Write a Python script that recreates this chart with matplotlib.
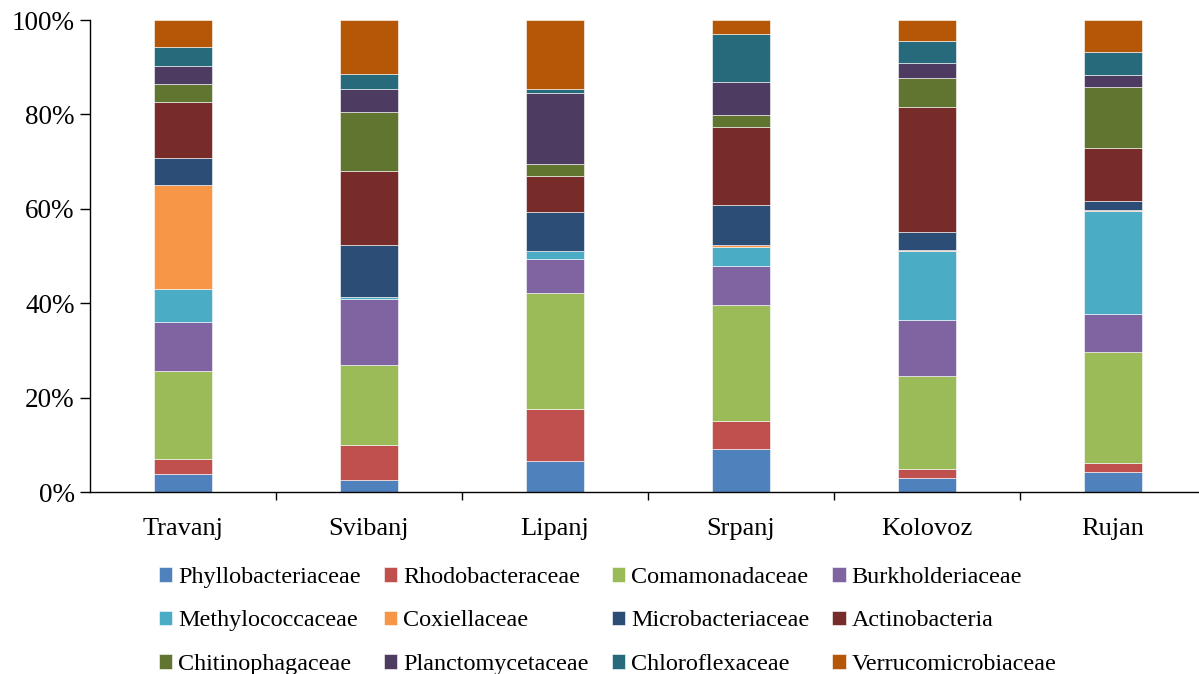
import numpy as np
import matplotlib.pyplot as plt

plt.rcParams['font.family'] = ['Liberation Serif', 'DejaVu Serif']

# mjeseci
months = ['Travanj', 'Svibanj', 'Lipanj', 'Srpanj', 'Kolovoz', 'Rujan']

# udio porodica (%) po mjesecima
phyllo = [3.9, 2.5, 6.5, 9.2, 3.0, 4.2]
rhodo = [3.0, 7.4, 11.0, 5.8, 1.8, 2.0]
comam = [18.8, 17.1, 24.6, 24.6, 19.8, 23.4]
burk = [10.3, 13.8, 7.2, 8.2, 11.8, 8.1]
methyl = [7.0, 0.6, 1.8, 4.2, 14.7, 21.9]
coxi = [22.0, 0.0, 0.0, 0.3, 0.2, 0.2]
microb = [5.6, 11.0, 8.3, 8.5, 3.7, 1.8]
actino = [12.0, 15.6, 7.5, 16.6, 26.5, 11.3]
chitin = [3.7, 12.5, 2.6, 2.4, 6.3, 12.9]
planct = [3.9, 4.9, 15.1, 7.1, 3.1, 2.5]
chloro = [4.0, 3.1, 0.7, 10.2, 4.6, 5.0]
verruco = [5.7, 11.5, 14.7, 2.9, 4.5, 6.7]

names = ['Phyllobacteriaceae', 'Rhodobacteraceae', 'Comamonadaceae', 'Burkholderiaceae',
         'Methylococcaceae', 'Coxiellaceae', 'Microbacteriaceae', 'Actinobacteria',
         'Chitinophagaceae', 'Planctomycetaceae', 'Chloroflexaceae', 'Verrucomicrobiaceae']
series = [phyllo, rhodo, comam, burk, methyl, coxi, microb, actino, chitin, planct, chloro, verruco]
colors = ['#4F81BD', '#C0504D', '#9BBB59', '#8064A2', '#4BACC6', '#F79646',
          '#2C4D75', '#772C2A', '#5F7530', '#4D3B62', '#276A7C', '#B65708']

data = np.array(series, dtype=float)
data = data / data.sum(axis=0) * 100  # normiranje na 100%

fig = plt.figure(figsize=(11.99, 6.74), dpi=100)
ax = fig.add_axes([90/1199, 182/674, 1109/1199, 472/674])

x = np.arange(len(months))
bottom = np.zeros(len(months))
handles = []
for i in range(len(names)):
    b = ax.bar(x, data[i], 0.31, bottom=bottom, color=colors[i], label=names[i],
               edgecolor='white', linewidth=0.4)
    handles.append(b)
    bottom += data[i]

ax.set_xlim(-0.5, -0.5 + 1109/186)
ax.set_ylim(0, 100)
ax.set_yticks([0, 20, 40, 60, 80, 100])
ax.set_yticklabels(['0%', '20%', '40%', '60%', '80%', '100%'], fontsize=19.5)
# crtice izmedu kategorija, nazivi u sredini
ax.set_xticks(x[:-1] + 0.5)
ax.set_xticklabels([])
ax.set_xticks(x, minor=True)
ax.set_xticklabels(months, minor=True, fontsize=19)
ax.tick_params(axis='x', which='major', direction='out', length=6, width=1)
ax.tick_params(axis='x', which='minor', length=0, pad=19)
ax.tick_params(axis='y', direction='out', length=7, width=1, pad=4)
ax.spines['top'].set_visible(False)
ax.spines['right'].set_visible(False)
ax.spines['left'].set_linewidth(1)
ax.spines['bottom'].set_linewidth(1)

# legenda po redovima (4 stupca, 3 reda)
ncol, nrow = 4, 3
order = [r * ncol + c for c in range(ncol) for r in range(nrow)]
fig.legend([handles[k] for k in order], [names[k] for k in order],
           loc='upper left', bbox_to_anchor=(159/1199, 1 - 567/674), ncol=ncol,
           frameon=False, fontsize=17.4, handlelength=0.55, handleheight=0.55,
           handletextpad=0.25, columnspacing=0.95, labelspacing=0.93,
           borderpad=0, borderaxespad=0)

fig.savefig('out.png', dpi=100)
